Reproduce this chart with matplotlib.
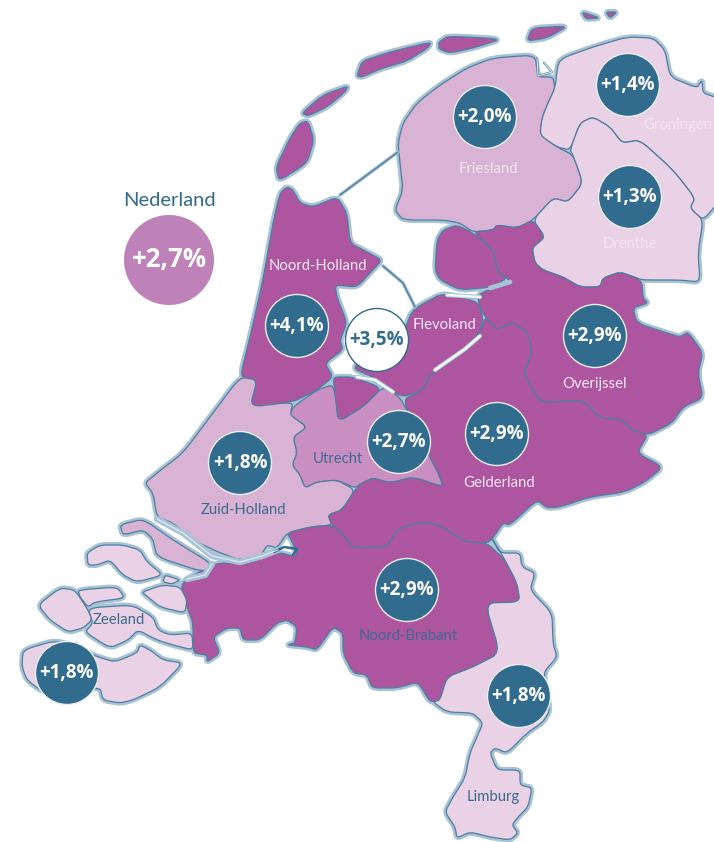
import matplotlib
matplotlib.use("Agg")
import matplotlib.pyplot as plt
from matplotlib.patches import PathPatch, Circle
from matplotlib.path import Path

plt.rcParams['font.family'] = ['Lato', 'DejaVu Sans']

DARK = '#AE559F'; MID = '#C98FC1'; SOFT = '#D8B3D3'; LIGHT = '#E9D1E6'
HALO = '#A8C3D6'; EDGE = '#4F7E9F'; BLUE = '#316B8E'; NAVY = '#3E6A90'

# province outlines (pixels)
friesland = [(535,55),(493,58),(467,68),(440,85),(417,103),(403,123),(398,143),(400,163),(403,190),(395,210),(403,220),(443,220),(460,223),(473,232),(493,230),(497,225),(517,228),(533,220),(553,198),(568,202),(583,183),(573,155),(557,147),(540,135),(542,118),(548,103),(555,88),(553,77),(538,77)]
groningen = [(555,88),(558,63),(565,57),(593,47),(627,37),(653,38),(665,50),(670,77),(697,88),(702,80),(703,93),(718,98),(718,203),(703,220),(690,208),(695,198),(673,170),(640,140),(622,143),(610,127),(593,117),(580,123),(570,150),(557,147),(540,135),(542,118),(548,103)]
drenthe = [(580,123),(593,117),(610,127),(622,143),(640,140),(673,170),(695,198),(690,208),(703,220),(698,253),(700,282),(680,280),(643,280),(637,278),(620,272),(603,278),(600,287),(580,287),(563,277),(543,270),(535,263),(532,248),(545,237),(533,220),(553,198),(568,202),(583,183),(573,155),(570,150)]
overijssel = [(473,232),(493,230),(497,225),(517,228),(533,220),(545,237),(532,248),(535,263),(543,270),(563,277),(580,287),(600,287),(603,278),(620,272),(637,278),(642,283),(643,298),(648,303),(633,308),(637,323),(667,333),(680,337),(688,332),(703,353),(698,373),(703,398),(683,407),(672,423),(648,435),(632,430),(622,420),(600,418),(583,400),(540,403),(523,373),(532,353),(528,333),(513,322),(497,330),(485,317),(478,302),(480,293),(510,283),(507,278),(498,273),(493,250)]
noordoostpolder = [(457,225),(473,233),(493,250),(498,273),(507,278),(493,287),(460,290),(440,280),(435,270),(437,240),(443,230)]
flevoland = [(443,293),(478,302),(483,317),(480,333),(463,350),(443,363),(427,380),(423,390),(403,397),(385,388),(375,378),(352,368),(375,350),(405,330),(410,315),(417,307)]
noord_holland = [(287,187),(293,190),(300,203),(313,207),(337,197),(347,213),(350,243),(367,252),(382,260),(370,273),(357,287),(335,285),(337,297),(347,323),(340,340),(343,350),(325,363),(333,377),(317,390),(293,402),(250,407),(257,380),(240,377),(250,337),(263,280),(273,223),(280,193)]
gooi = [(333,377),(353,377),(382,388),(363,407),(338,422),(335,393)]
utrecht = [(293,407),(317,390),(332,385),(335,393),(338,422),(363,407),(382,388),(390,390),(402,400),(430,457),(440,477),(443,487),(413,477),(390,483),(373,478),(362,483),(355,488),(337,480),(317,482),(305,488),(300,475),(292,465),(297,453),(293,437),(307,427),(290,415)]
zuid_holland = [(240,377),(257,380),(250,407),(293,402),(290,415),(307,427),(293,437),(297,453),(292,465),(300,475),(305,488),(317,482),(337,480),(355,490),(342,510),(328,515),(332,525),(310,527),(287,533),(277,548),(267,545),(260,557),(240,560),(218,552),(193,540),(173,523),(157,517),(153,493),(145,483),(157,473),(183,453),(210,417)]
gelderland = [(402,400),(423,390),(427,380),(443,363),(463,350),(480,333),(485,317),(497,330),(513,322),(528,333),(532,353),(523,373),(540,403),(583,400),(600,418),(622,420),(632,430),(648,435),(637,453),(663,467),(645,482),(625,492),(590,497),(560,507),(547,508),(537,500),(510,525),(503,523),(493,538),(487,543),(465,542),(443,527),(430,523),(418,523),(403,527),(395,533),(387,547),(353,548),(343,535),(332,525),(328,515),(342,510),(355,490),(362,483),(373,478),(390,483),(413,477),(443,487),(440,477),(430,457)]
noord_brabant = [(332,525),(310,527),(287,533),(293,543),(297,557),(277,552),(250,563),(215,563),(180,583),(188,610),(193,623),(193,653),(207,655),(207,662),(220,653),(213,637),(227,628),(240,628),(243,640),(260,640),(277,623),(287,620),(297,627),(295,643),(287,645),(307,647),(317,650),(333,627),(343,633),(343,653),(353,673),(367,675),(372,688),(397,688),(418,682),(430,702),(440,700),(447,677),(473,667),(500,653),(485,603),(520,602),(517,583),(505,560),(487,543),(465,542),(443,527),(430,523),(418,523),(403,527),(395,533),(387,547),(353,548),(343,535)]
limburg = [(490,535),(500,553),(520,553),(522,567),(535,573),(530,590),(552,613),(553,643),(557,657),(543,673),(550,710),(543,722),(527,733),(507,753),(495,748),(490,753),(497,770),(520,770),(520,785),(532,788),(528,807),(518,817),(512,825),(518,833),(510,840),(490,837),(470,832),(457,838),(455,827),(445,812),(453,797),(465,778),(470,753),(477,737),(483,723),(473,713),(447,712),(433,702),(440,700),(447,677),(473,667),(500,653),(485,603),(520,602),(517,583),(505,560)]
overflakkee = [(120,525),(143,519),(173,540),(212,564),(203,572),(157,557),(153,539),(143,530),(123,535)]
schouwen = [(87,553),(100,545),(123,545),(140,550),(147,562),(163,575),(137,582),(123,575),(110,560),(97,565),(88,565)]
tholen_a = [(165,575),(180,580),(172,584),(163,582)]
tholen_b = [(142,592),(163,585),(180,587),(187,600),(185,613),(160,607),(148,597)]
noord_beveland = [(78,590),(117,587),(125,598),(95,602),(88,607),(80,597)]
walcheren = [(38,605),(60,588),(75,590),(88,610),(92,620),(83,628),(68,632),(50,620)]
zuid_beveland = [(88,608),(132,605),(153,617),(158,630),(170,635),(192,633),(193,650),(173,645),(157,640),(138,630),(128,640),(110,648),(85,632),(93,623)]
zeeuws_vlaanderen = [(23,650),(57,640),(98,657),(115,662),(137,653),(140,645),(150,650),(163,660),(183,663),(160,687),(133,700),(120,703),(103,700),(100,687),(43,692),(27,680),(22,667)]
texel = [(308,121),(314,140),(307,163),(279,181),(276,167),(290,138),(300,123)]
vlieland = [(302,113),(323,95),(348,86),(345,92),(327,107),(308,116)]
terschelling = [(357,76),(362,61),(390,52),(431,42),(428,48),(407,61),(380,69),(362,77)]
ameland = [(439,42),(448,36),(502,39),(473,48),(450,53),(439,49)]
schiermonnikoog = [(527,41),(532,28),(568,26),(547,38)]
rottum_a = [(582,12),(600,18),(586,19)]
rottum_b = [(606,12),(617,12),(610,18)]

# water: dikes, lakes and rivers drawn over the land
afsluitdijk = [(398,152),(340,195)]
houtribdijk = [(383,266),(403,283),(415,307)]
ketelmeer = [(447,295),(480,297)]
vossemeer = [(490,288),(510,282)]
veluwemeer = [(435,370),(465,349),(480,336)]
gooimeer = [(357,377),(375,380),(393,392)]
haringvliet = [(157,519),(183,533),(212,556),(240,562),(262,556),(278,550)]
volkerak = [(212,564),(205,575),(187,579)]
biesbosch = [(274,552),(284,547),(297,549),(293,555)]
lauwersmeer = [(537,58),(538,76),(552,72),(544,63)]

province_shapes = [(friesland,SOFT),(groningen,LIGHT),(drenthe,LIGHT),(overijssel,DARK),(noordoostpolder,DARK),
    (flevoland,DARK),(noord_holland,DARK),(gooi,DARK),(utrecht,MID),(zuid_holland,SOFT),(gelderland,DARK),
    (noord_brabant,DARK),(limburg,LIGHT),(overflakkee,SOFT),(schouwen,LIGHT),(tholen_a,LIGHT),(tholen_b,LIGHT),
    (noord_beveland,LIGHT),(walcheren,LIGHT),(zuid_beveland,LIGHT),(zeeuws_vlaanderen,LIGHT),(texel,DARK),
    (vlieland,DARK),(terschelling,DARK),(ameland,DARK),(schiermonnikoog,DARK),(rottum_a,DARK),(rottum_b,DARK)]

province_labels = ['Friesland','Groningen','Drenthe','Noord-Holland','Flevoland','Overijssel','Utrecht','Gelderland','Zuid-Holland','Noord-Brabant','Zeeland','Limburg']
label_pos = [(488,169),(678,125),(630,244),(318,266),(444,325),(595,384),(338,459),(499,483),(243,510),(408,636),(119,620),(493,797)]
label_col = ['#F3E3F0','#F3E3F0','#F3E3F0','#F6E6F3','#F6E6F3','#F6E6F3',NAVY,'#F6E6F3',NAVY,NAVY,NAVY,NAVY]

growth_labels = ['+2,0%','+1,4%','+1,3%','+4,1%','+2,9%','+2,9%','+2,7%','+1,8%','+2,9%','+1,8%','+1,8%']
growth_pos = [(485,117),(628,85),(630,197),(297,326),(595,336),(497,434),(399,442),(240,463),(407,590),(67,673),(519,696)]
flevo_label = '+3,5%'; flevo_pos = (377,340)
nl_title = 'Nederland'; nl_label = '+2,7%'; nl_pos = (169,260)

def outline(pts, r=0.28):
    # closed outline with its corners slightly rounded at drawing time
    n = len(pts)
    verts = []; codes = []
    for i in range(n):
        vx,vy = pts[i]; px,py = pts[i-1]; qx,qy = pts[(i+1)%n]
        a = (vx+r*(px-vx), vy+r*(py-vy)); b = (vx+r*(qx-vx), vy+r*(qy-vy))
        verts += [a,(vx,vy),b]
        codes += [Path.MOVETO if i==0 else Path.LINETO, Path.CURVE3, Path.CURVE3]
    verts.append(verts[0]); codes.append(Path.CLOSEPOLY)
    return Path(verts, codes)

fig = plt.figure(figsize=(7.14,8.42), dpi=100)
ax = fig.add_axes([0,0,1,1]); ax.set_xlim(0,714); ax.set_ylim(842,0); ax.axis('off')

for pts,c in province_shapes:
    ax.add_patch(PathPatch(outline(pts),fc=HALO,ec=HALO,lw=4.4,joinstyle='round',zorder=1))
for pts,c in province_shapes:
    ax.add_patch(PathPatch(outline(pts),fc=c,ec=EDGE,lw=0.9,joinstyle='round',zorder=2))

def line(pts,c,lw,z=3):
    ax.plot(*zip(*pts),color=c,lw=lw,solid_capstyle='round',solid_joinstyle='round',zorder=z)
for w in (ketelmeer,veluwemeer,gooimeer):
    line(w,HALO,3.2); line(w,'#F2F7FA',1.8,4)
line(vossemeer,HALO,3.4,3)
for w in (haringvliet,volkerak):
    line(w,HALO,4.6); line(w,'#DCE9F1',0.9,4)
line(biesbosch,BLUE,1.8)
line(lauwersmeer,EDGE,1.6); line(lauwersmeer,'#E6EEF4',0.7,4)
for d in (afsluitdijk,houtribdijk):
    line(d,HALO,2.6); line(d,EDGE,1.0,4)

for name,(x,y),c in zip(province_labels,label_pos,label_col):
    ax.text(x,y,name,color=c,fontsize=10.7,ha='center',va='center',zorder=5)

num = dict(family=['Open Sans','DejaVu Sans'],fontweight='bold',ha='center',va='center',zorder=7)
for t,(x,y) in zip(growth_labels,growth_pos):
    ax.add_patch(Circle((x,y),31.5,fc=BLUE,ec='#E8EEF3',lw=1,zorder=6))
    ax.text(x,y,t,color='white',fontsize=13.5,**num)
ax.add_patch(Circle(flevo_pos,31.5,fc='white',ec=BLUE,lw=1,zorder=6))
ax.text(*flevo_pos,flevo_label,color=BLUE,fontsize=13.5,**num)
ax.add_patch(Circle(nl_pos,45,fc='#BE82B8',ec='none',zorder=6))
ax.text(*nl_pos,nl_label,color='white',fontsize=18.5,**num)
ax.text(169,201,nl_title,color=BLUE,fontsize=14.5,ha='center',va='center',zorder=7)

fig.savefig('out.png',dpi=100)
